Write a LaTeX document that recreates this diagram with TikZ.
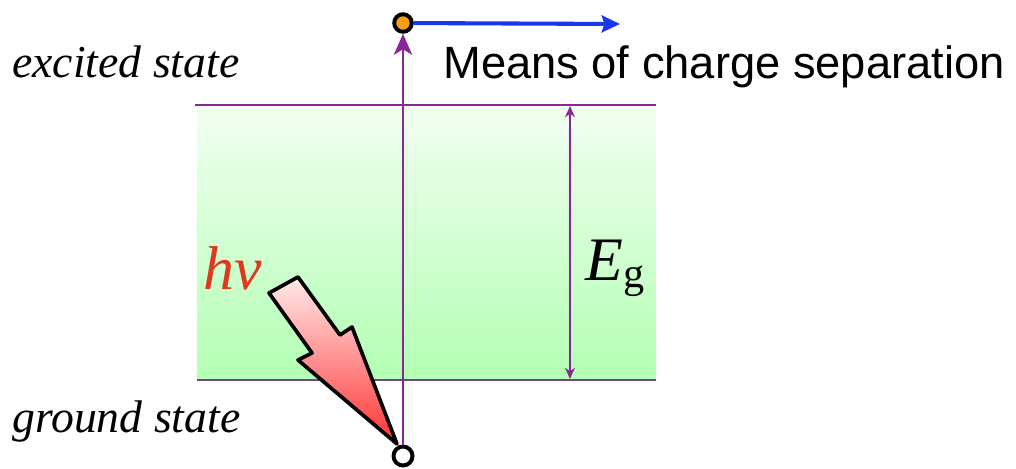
\documentclass[tikz,border=0pt]{standalone}
\usepackage{fontspec}
\setmainfont{Liberation Serif}
\setsansfont{Liberation Sans}
\usepackage{xcolor}
\usepackage{tikz}
\usetikzlibrary{arrows.meta, positioning}
\definecolor{lvlpurple}{RGB}{135,40,150}
\definecolor{vbpurple}{RGB}{115,70,125}
\definecolor{sepblue}{RGB}{25,55,235}
\definecolor{elecorange}{RGB}{248,160,20}
\definecolor{hvred}{RGB}{225,55,30}
\tikzset{
  level/.style={line width=1.6pt, draw=lvlpurple},
  excite/.style={-{Stealth[length=15pt, width=13pt, inset=4pt]}, line width=1.9pt, draw=lvlpurple},
  gaparrow/.style={{Stealth[length=8pt, width=7pt]}-{Stealth[length=8pt, width=7pt]}, line width=1.4pt, draw=lvlpurple},
  sep/.style={-{Stealth[length=13pt, width=12pt, inset=2pt]}, line width=2.9pt, draw=sepblue},
  elec/.style={circle, draw=black, line width=2.8pt, fill=elecorange, minimum size=12.5pt, inner sep=0pt},
  hole/.style={circle, draw=black, line width=2.8pt, fill=white, minimum size=13.5pt, inner sep=0pt},
  statelbl/.style={font=\itshape\fontsize{32.5}{33}\selectfont, anchor=base west, inner sep=0pt},
  photon/.style={draw=black, line width=2.6pt, line join=round, top color=red!8!white, bottom color=red!80!white},
}

\begin{document}
\begin{tikzpicture}[x=0.025cm, y=-0.025cm]
  \useasboundingbox (0,0) rectangle (1016,468);
  % band gap
  \fill[top color=green!5!white, bottom color=green!30!white] (197,105) rectangle (656,380);
  \coordinate (cbL) at (195,105);
  \coordinate (cbR) at (656,105);
  \coordinate (vbL) at (197,380);
  \coordinate (vbR) at (656,380);
  \draw[level] (cbL) -- (cbR);
  \draw[level, draw=vbpurple] (vbL) -- (vbR);
  \coordinate (egT) at (570,106);
  \coordinate (egB) at (570,379);
  \draw[gaparrow] (egB) -- (egT);
  \node[anchor=base west, inner sep=0pt, font=\itshape\fontsize{44}{44}\selectfont] (eg) at (585,280)
    {E\raisebox{-5pt}{\upshape\fontsize{30}{30}\selectfont g}};
  % labels
  \node[statelbl] (exlbl) at (12,77) {excited state};
  \node[statelbl] (gndlbl) at (12,432) {ground state};
  \node[anchor=base west, inner sep=0pt, font=\sffamily\fontsize{32.2}{33}\selectfont] (means) at (443,78)
    {Means of charge separation};
  \node[anchor=base west, inner sep=0pt, text=hvred, font=\itshape\fontsize{44}{44}\selectfont] (hv) at (203,289) {hv};
  % excitation
  \node[elec] (exc) at (403,23) {};
  \node[hole] (gnd) at (403,456) {};
  \draw[excite] (gnd) -- (exc);
  \coordinate (sepend) at (620,24);
  \draw[sep] (exc) -- (sepend);
  % photon
  \draw[photon] (269,293) -- (298,277) -- (340,335) -- (352,327) -- (397,444)
    -- (298,360) -- (312,353) -- cycle;
\end{tikzpicture}
\end{document}
